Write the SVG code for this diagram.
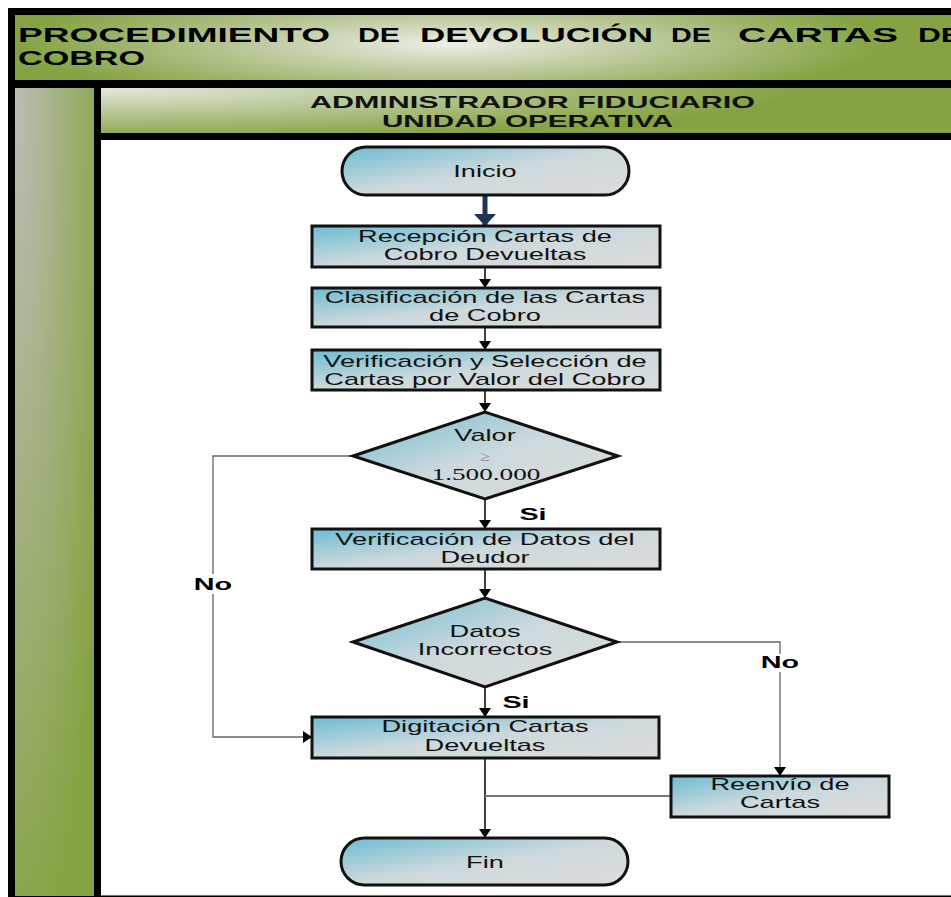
<svg xmlns="http://www.w3.org/2000/svg" width="951" height="897" viewBox="0 0 951 897">
<defs>
<radialGradient id="tg" gradientUnits="userSpaceOnUse" cx="450" cy="44" r="430" gradientTransform="translate(450 44) scale(1 0.14) translate(-450 -44)">
<stop offset="0" stop-color="#eceee6"/><stop offset="0.4" stop-color="#c2cea6"/><stop offset="1" stop-color="#86a343"/>
</radialGradient>
<radialGradient id="hg" gradientUnits="userSpaceOnUse" cx="101" cy="88" r="700" gradientTransform="translate(101 88) scale(1 0.075) translate(-101 -88)">
<stop offset="0" stop-color="#e4e8dd"/><stop offset="1" stop-color="#84a242"/>
</radialGradient>
<radialGradient id="cg" gradientUnits="userSpaceOnUse" cx="15" cy="88" r="900" gradientTransform="translate(15 88) scale(0.11 1) translate(-15 -88)">
<stop offset="0" stop-color="#bcbdb6"/><stop offset="1" stop-color="#86a343"/>
</radialGradient>
<linearGradient id="bx" x1="0" y1="0" x2="1" y2="1">
<stop offset="0" stop-color="#6dbcd3"/><stop offset="0.5" stop-color="#cdd9dc"/><stop offset="1" stop-color="#dcdcdc"/>
</linearGradient>
<marker id="ah" markerUnits="userSpaceOnUse" markerWidth="9" markerHeight="12" refX="9" refY="6" orient="auto">
<path d="M0,0 L9,6 L0,12 z" fill="#000"/>
</marker>
<marker id="ahn" markerUnits="userSpaceOnUse" markerWidth="12" markerHeight="22" refX="12" refY="11" orient="auto">
<path d="M0,0 L12,11 L0,22 z" fill="#1f3555"/>
</marker>
<style>
.box{fill:url(#bx);stroke:#111;stroke-width:3}
.t{font-family:"Liberation Sans",Arial,sans-serif;font-size:17px;fill:#111;text-anchor:middle}
.s{font-family:"Liberation Serif","Times New Roman",serif;font-size:17px;fill:#111;text-anchor:middle}
.h{font-family:"Liberation Sans",Arial,sans-serif;font-weight:bold;font-size:20px;fill:#000}
.h2{font-family:"Liberation Sans",Arial,sans-serif;font-weight:bold;font-size:17px;fill:#111}
.lb{font-family:"Liberation Sans",Arial,sans-serif;font-weight:bold;font-size:16px;fill:#000;text-anchor:middle}
.c{fill:none;stroke:#000;stroke-width:1.5}
.g{fill:none;stroke:#666;stroke-width:1.3}
</style>
</defs>
<rect x="0" y="0" width="951" height="897" fill="#fff"/>
<rect x="8" y="8" width="943" height="889" fill="#000"/>
<rect x="15" y="15" width="936" height="65" fill="url(#tg)"/>
<rect x="101" y="88" width="850" height="45" fill="url(#hg)"/>
<rect x="15" y="88" width="79" height="808" fill="url(#cg)"/>
<rect x="101" y="140" width="850" height="755" fill="#fff"/>
<line x1="101" y1="895.5" x2="951" y2="895.5" stroke="#777" stroke-width="1"/>
<g id="title">
<text class="h" x="18" y="42" textLength="312" lengthAdjust="spacingAndGlyphs">PROCEDIMIENTO</text>
<text class="h" x="358" y="42" textLength="42" lengthAdjust="spacingAndGlyphs">DE</text>
<text class="h" x="420" y="42" textLength="233" lengthAdjust="spacingAndGlyphs">DEVOLUCIÓN</text>
<text class="h" x="671" y="42" textLength="40" lengthAdjust="spacingAndGlyphs">DE</text>
<text class="h" x="738" y="42" textLength="160" lengthAdjust="spacingAndGlyphs">CARTAS</text>
<text class="h" x="918" y="42" textLength="44" lengthAdjust="spacingAndGlyphs">DE</text>
<text class="h" x="18" y="65" textLength="127" lengthAdjust="spacingAndGlyphs">COBRO</text>
</g>
<g id="lane-header">
<text class="h2" x="310" y="108" textLength="445" lengthAdjust="spacingAndGlyphs">ADMINISTRADOR FIDUCIARIO</text>
<text class="h2" x="382" y="127" textLength="291" lengthAdjust="spacingAndGlyphs">UNIDAD OPERATIVA</text>
</g>
<g id="connectors">
<path d="M485,195 L485,226" fill="none" stroke="#1f3555" stroke-width="5" marker-end="url(#ahn)"/>
<path class="c" d="M485,267 L485,288" marker-end="url(#ah)"/>
<path class="c" d="M485,327 L485,350" marker-end="url(#ah)"/>
<path class="c" d="M485,390 L485,412" marker-end="url(#ah)"/>
<path class="c" d="M485,499 L485,529" marker-end="url(#ah)"/>
<path class="c" d="M485,569 L485,598" marker-end="url(#ah)"/>
<path class="c" d="M485,687 L485,717" marker-end="url(#ah)"/>
<path class="g" d="M353,456 L213,456 L213,737 L312,737" marker-end="url(#ah)"/>
<path class="g" d="M617,642 L780,642 L780,776" marker-end="url(#ah)"/>
<path class="c" d="M485,758 L485,838" marker-end="url(#ah)"/>
<path d="M671,796 L485,796" fill="none" stroke="#777" stroke-width="2"/>
<rect x="192" y="574" width="42" height="20" fill="#fff"/>
<text class="lb" transform="translate(213 590) scale(1.8 1)">No</text>
<rect x="758" y="654" width="44" height="18" fill="#fff"/>
<text class="lb" transform="translate(780 668) scale(1.8 1)">No</text>
<text class="lb" transform="translate(533 520) scale(1.8 1)">Si</text>
<text class="lb" transform="translate(516 708) scale(1.8 1)">Si</text>
</g>
<g id="inicio">
<rect class="box" x="342" y="147" width="287" height="48" rx="24"/>
<text class="t" transform="translate(485 177) scale(1.6 1)">Inicio</text>
</g>
<g id="recepcion">
<rect class="box" x="312" y="226" width="348" height="41"/>
<text class="t" transform="translate(485 242) scale(1.6 1)">Recepción Cartas de</text>
<text class="t" transform="translate(485 260) scale(1.6 1)">Cobro Devueltas</text>
</g>
<g id="clasificacion">
<rect class="box" x="312" y="288" width="348" height="39"/>
<text class="t" transform="translate(485 303) scale(1.6 1)">Clasificación de las Cartas</text>
<text class="t" transform="translate(485 321) scale(1.6 1)">de Cobro</text>
</g>
<g id="verificacion-seleccion">
<rect class="box" x="312" y="350" width="348" height="40"/>
<text class="t" transform="translate(485 367) scale(1.6 1)">Verificación y Selección de</text>
<text class="t" transform="translate(485 385) scale(1.6 1)">Cartas por Valor del Cobro</text>
</g>
<g id="decision-valor">
<polygon class="box" points="353,456 485,412 618,456 485,499"/>
<text class="t" transform="translate(485 441) scale(1.6 1)">Valor</text>
<text class="s" transform="translate(485 461) scale(1.3 1)" style="font-size:14px;fill:#8a8a8a">≥</text>
<text class="s" transform="translate(486 480) scale(1.6 1)">1.500.000</text>
</g>
<g id="verificacion-datos">
<rect class="box" x="312" y="529" width="348" height="40"/>
<text class="t" transform="translate(485 545) scale(1.6 1)">Verificación de Datos del</text>
<text class="t" transform="translate(485 563) scale(1.6 1)">Deudor</text>
</g>
<g id="decision-datos">
<polygon class="box" points="353,642 485,598 617,642 485,687"/>
<text class="t" transform="translate(485 637) scale(1.6 1)">Datos</text>
<text class="t" transform="translate(485 655) scale(1.6 1)">Incorrectos</text>
</g>
<g id="digitacion">
<rect class="box" x="312" y="717" width="347" height="41"/>
<text class="t" transform="translate(485 732) scale(1.6 1)">Digitación Cartas</text>
<text class="t" transform="translate(485 751) scale(1.6 1)">Devueltas</text>
</g>
<g id="reenvio">
<rect class="box" x="671" y="776" width="218" height="41"/>
<text class="t" transform="translate(780 790) scale(1.6 1)">Reenvío de</text>
<text class="t" transform="translate(780 808) scale(1.6 1)">Cartas</text>
</g>
<g id="fin">
<rect class="box" x="341" y="838" width="287" height="47" rx="23.5"/>
<text class="t" transform="translate(485 868) scale(1.6 1)">Fin</text>
</g>
</svg>
